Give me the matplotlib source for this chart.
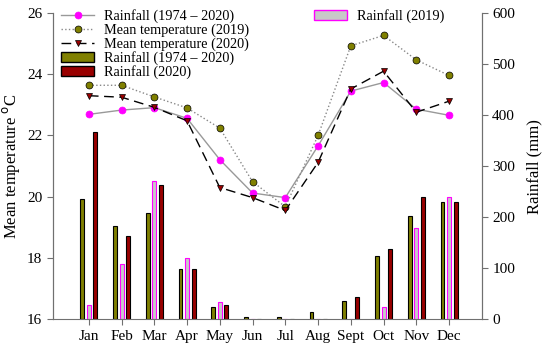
import numpy as np
import matplotlib
matplotlib.use("Agg")
import matplotlib.pyplot as plt
from matplotlib.patches import Patch
from matplotlib.lines import Line2D

plt.rcParams["font.family"] = ["Liberation Serif", "DejaVu Serif"]

months = ["Jan", "Feb", "Mar", "Apr", "May", "Jun", "Jul", "Aug", "Sept", "Oct", "Nov", "Dec"]

# temperature lines (left axis)
temp_longterm = [22.69, 22.83, 22.91, 22.56, 21.21, 20.12, 19.97, 21.66, 23.45, 23.73, 22.86, 22.66]
temp_2019 = [23.64, 23.64, 23.26, 22.90, 22.24, 20.49, 19.67, 22.00, 24.93, 25.27, 24.47, 23.96]
temp_2020 = [23.30, 23.25, 22.92, 22.48, 20.30, 19.97, 19.55, 21.12, 23.52, 24.10, 22.76, 23.12]

# rainfall bars (right axis, mm)
rain_longterm = [235, 182, 208, 99, 24, 5, 4, 13, 35, 123, 203, 229]
rain_2019 = [27, 108, 270, 119, 34, 0, 0, 0, 0, 24, 178, 240]
rain_2020 = [366, 162, 263, 99, 28, 0, 0, 0, 44, 138, 240, 229]

x = np.arange(1, len(months) + 1)
w = 0.12
off = 0.2

fig = plt.figure(figsize=(5.5, 3.53), dpi=100)
ax = fig.add_axes([0.096, 0.096, 0.78, 0.867])
ax2 = ax.twinx()

ax2.bar(x - off, rain_longterm, w, color="#808000", edgecolor="black", linewidth=0.8)
ax2.bar(x, rain_2019, w, color="#c8c8c8", edgecolor="#ff00ff", linewidth=0.8)
ax2.bar(x + off, rain_2020, w, color="#990000", edgecolor="black", linewidth=0.8)

ms = 5.0
ax.plot(x, temp_longterm, color="#999999", lw=1, marker="o", ms=ms,
        mfc="#ff00ff", mec="#ff00ff", mew=0.5)
ax.plot(x, temp_2019, color="#888888", lw=1, ls=":", marker="o", ms=ms,
        mfc="#808000", mec="black", mew=0.5)
ax.plot(x, temp_2020, color="black", lw=1, ls=(0, (7, 4)), marker="v", ms=ms,
        mfc="#990000", mec="black", mew=0.5)

ax.set_zorder(ax2.get_zorder() + 1)
ax.patch.set_visible(False)

ax.set_xlim(-0.1, 13.0)
ax.set_ylim(16, 26)
ax2.set_ylim(0, 600)
ax.set_yticks([16, 18, 20, 22, 24, 26])
ax2.set_yticks([0, 100, 200, 300, 400, 500, 600])
ax.set_xticks(x)
ax.set_xticklabels(months)

spine_col = "#707070"
for a in (ax, ax2):
    a.spines["top"].set_visible(False)
    for s in ("left", "right", "bottom"):
        a.spines[s].set_color(spine_col)
    a.tick_params(labelsize=11, color=spine_col, length=4, direction="out")
ax2.spines["bottom"].set_visible(False)

ax.set_ylabel("Mean temperature $^{\\rm o}$C", fontsize=12)
ax2.set_ylabel("Rainfall (mm)", fontsize=12, labelpad=8)

handles = [
    Line2D([], [], color="#999999", lw=1, marker="o", ms=ms, mfc="#ff00ff", mec="#ff00ff", mew=0.5),
    Line2D([], [], color="#888888", lw=1, ls=":", marker="o", ms=ms, mfc="#808000", mec="black", mew=0.5),
    Line2D([], [], color="black", lw=1, ls=(0, (7, 4)), marker="v", ms=ms, mfc="#990000", mec="black", mew=0.5),
    Patch(facecolor="#808000", edgecolor="black"),
    Patch(facecolor="#990000", edgecolor="black"),
]
labels = ["Rainfall (1974 \u2013 2020)", "Mean temperature (2019)", "Mean temperature (2020)",
          "Rainfall (1974 \u2013 2020)", "Rainfall (2020)"]
leg1 = ax.legend(handles, labels, loc="upper left", bbox_to_anchor=(0.0, 1.04), frameon=False,
                 fontsize=10.3, handlelength=2.3, handleheight=0.7, labelspacing=0.02,
                 borderaxespad=0.2, handletextpad=0.65)
ax.add_artist(leg1)
ax.legend([Patch(facecolor="#c8c8c8", edgecolor="#ff00ff")], ["Rainfall (2019)"],
          loc="upper left", bbox_to_anchor=(0.59, 1.04), frameon=False, fontsize=10.3,
          handlelength=2.3, handleheight=0.7, borderaxespad=0.2, handletextpad=0.65)

fig.savefig("out.png", dpi=100)
